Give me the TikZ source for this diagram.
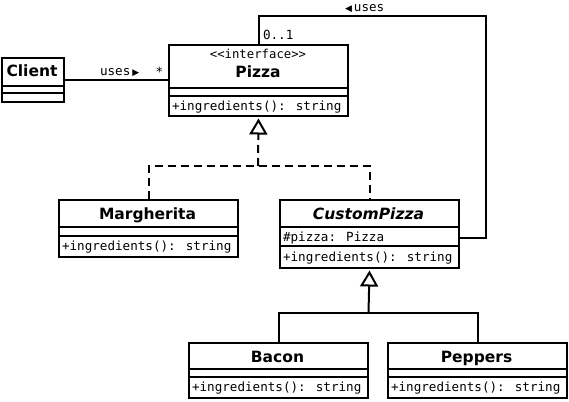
\documentclass[tikz,border=0pt]{standalone}
\usepackage{fontspec}
\setmainfont{DejaVu Sans}
\newfontfamily\monof{DejaVu Sans Mono}
\usetikzlibrary{arrows.meta,calc}
\begin{document}
\begin{tikzpicture}[x=1pt,y=-1pt,
  line width=2pt,
  classbox/.style={draw, rectangle, inner sep=0pt, anchor=north west, minimum width=179pt},
  ctitle/.style={font=\fontsize{15.5}{18}\selectfont\bfseries, inner sep=0pt, anchor=base},
  member/.style={font=\fontsize{12.6}{15}\selectfont\monof, inner sep=0pt, anchor=base west},
  lbl/.style={font=\fontsize{12.6}{15}\selectfont\monof, inner sep=0pt},
  realize/.style={dash pattern=on 8pt off 5pt},
  openhead/.style={-{Triangle[open, length=16pt, width=18pt]}}
]
\useasboundingbox (0,0) rectangle (569,401);

% Client
\node[classbox, minimum width=62pt, minimum height=44pt] (client) at (1,57) {};
\draw (client.west |- 0,86) -- (client.east |- 0,86);
\draw (client.west |- 0,93) -- (client.east |- 0,93);
\node[ctitle] (clientname) at (32,77) {Client};

% Pizza
\node[classbox, minimum height=71pt] (pizza) at (168,44) {};
\draw (pizza.west |- 0,88) -- (pizza.east |- 0,88);
\draw (pizza.west |- 0,96) -- (pizza.east |- 0,96);
\node[lbl, anchor=base, font=\fontsize{12.3}{14}\selectfont\monof] (pizzaster) at (258,59) {<<interface>>};
\node[ctitle] (pizzaname) at (258,78) {Pizza};
\node[member] (pizzaop) at (171,110.5) {+ingredients(): string};

% Margherita
\node[classbox, minimum height=57pt] (marg) at (58,199) {};
\draw (marg.west |- 0,227) -- (marg.east |- 0,227);
\draw (marg.west |- 0,236) -- (marg.east |- 0,236);
\node[ctitle] (margname) at (147.5,219) {Margherita};
\node[member] (margop) at (61,250.5) {+ingredients(): string};

% CustomPizza
\node[classbox, minimum height=68pt] (custom) at (279,199) {};
\draw (custom.west |- 0,227) -- (custom.east |- 0,227);
\draw (custom.west |- 0,246) -- (custom.east |- 0,246);
\node[ctitle, font=\fontsize{15.5}{18}\selectfont\bfseries\itshape] (customname) at (368.5,219) {CustomPizza};
\node[member] (customattr) at (282,241) {\#pizza: Pizza};
\node[member] (customop) at (282,261) {+ingredients(): string};

% Bacon
\node[classbox, minimum height=55pt] (bacon) at (188,342) {};
\draw (bacon.west |- 0,369) -- (bacon.east |- 0,369);
\draw (bacon.west |- 0,377) -- (bacon.east |- 0,377);
\node[ctitle] (baconname) at (277.5,362) {Bacon};
\node[member] (baconop) at (191,391.5) {+ingredients(): string};

% Peppers
\node[classbox, minimum height=55pt] (peppers) at (387,342) {};
\draw (peppers.west |- 0,369) -- (peppers.east |- 0,369);
\draw (peppers.west |- 0,377) -- (peppers.east |- 0,377);
\node[ctitle] (peppersname) at (476.5,362) {Peppers};
\node[member] (peppersop) at (390,391.5) {+ingredients(): string};

% Client -> Pizza association
\draw (client.east) -- (client.east -| pizza.west);
\node[lbl, anchor=base west] (uses1) at (99,76) {uses\hspace{2pt}{\rmfamily\fontsize{9}{10}\selectfont ▶}};
\node[lbl, anchor=base] (star) at (159.5,77) {*};

% CustomPizza -> Pizza association path
\coordinate (topright) at (486,16);
\draw (pizza.north) |- (topright) |- (custom.east |- customattr);
\node[lbl, anchor=base west] (uses2) at (344,12) {{\rmfamily\fontsize{9}{10}\selectfont ◀}\hspace{2pt}uses};
\node[lbl, anchor=base west] (mult) at (262,39.5) {0..1};

% Realization
\coordinate (realjoin) at (258,166);
\draw[realize] (marg.north) |- (realjoin) -| (custom.north);
\draw[realize, openhead] (realjoin) -- ($(pizza.south)+(0,1.5)$);

% Generalization
\coordinate (genjoin) at (368.5,313);
\draw (bacon.north) |- (genjoin) -| (peppers.north);
\draw[openhead] (genjoin) -- ($(custom.south)+(0,1.5)$);
\end{tikzpicture}
\end{document}
